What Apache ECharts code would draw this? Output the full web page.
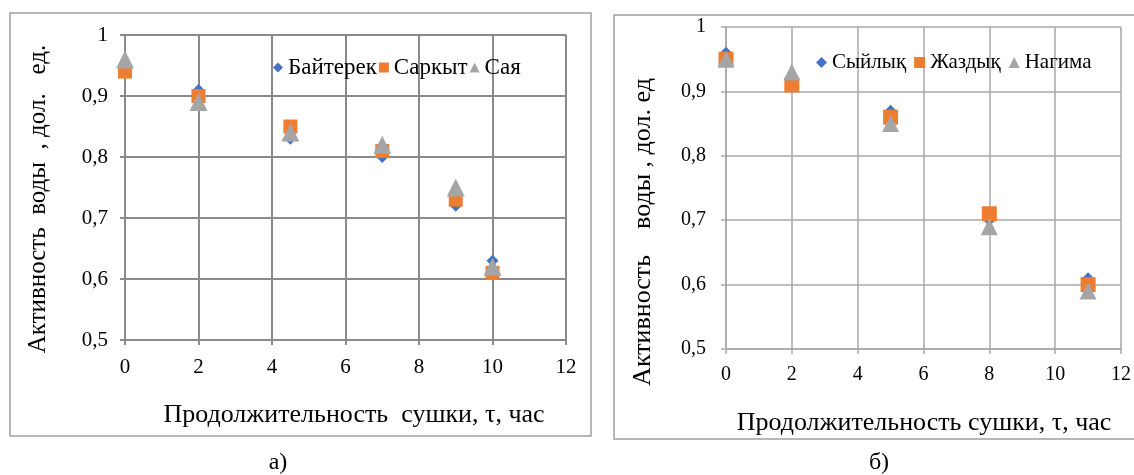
<!DOCTYPE html>
<html>
<head>
<meta charset="utf-8">
<script src="https://cdn.jsdelivr.net/npm/echarts@6/dist/echarts.min.js"></script>
<style>
html,body{margin:0;padding:0;background:#fff;}
#c{width:1134px;height:475px;}
</style>
</head>
<body>
<div id="c"></div>
<script>
// ---- data ----
var xA = [0, 2, 4.5, 7, 9, 10];
var baiterek = [0.95, 0.91, 0.83, 0.80, 0.72, 0.63];
var sarkyt   = [0.94, 0.90, 0.85, 0.81, 0.73, 0.61];
var saya     = [0.96, 0.89, 0.84, 0.82, 0.75, 0.62];

var xB = [0, 2, 5, 8, 11];
var syilyk  = [0.96, 0.91, 0.87, 0.70, 0.61];
var zhazdyk = [0.95, 0.91, 0.86, 0.71, 0.60];
var nagima  = [0.95, 0.93, 0.85, 0.69, 0.59];

var namesA = ['Байтерек', 'Саркыт', 'Сая'];
var namesB = ['Сыйлық', 'Жаздық', 'Нагима'];
var xTicks = ['0', '2', '4', '6', '8', '10', '12'];
var yTicks = ['0,5', '0,6', '0,7', '0,8', '0,9', '1'];
var xTitleA = 'Продолжительность  сушки, τ, час';
var xTitleB = 'Продолжительность сушки, τ, час';
var yTitleA = 'Активность  воды  , дол.   ед.';
var yTitleB = 'Активность    воды , дол. ед';
var capA = 'а)', capB = 'б)';

function pairs(xs, ys){ return xs.map(function(x,i){ return [x, ys[i]]; }); }

var FONT = 'Liberation Serif';
var chart = echarts.init(document.getElementById('c'));

function xAxis(gi, color, w, fs, margin){
  return {
    type:'value', gridIndex:gi, min:0, max:12, interval:2,
    axisLine:{show:true, lineStyle:{color:color, width:w}},
    axisTick:{show:true, length:5, lineStyle:{color:color, width:w}},
    splitLine:{show:true, lineStyle:{color:color, width:w}},
    axisLabel:{color:'#000', fontFamily:FONT, fontSize:fs, margin:margin,
      formatter:function(v,i){ return xTicks[i]; }}
  };
}
function yAxis(gi, color, w, fs, margin){
  return {
    type:'value', gridIndex:gi, min:0.5, max:1, interval:0.1,
    axisLine:{show:true, lineStyle:{color:color, width:w}},
    axisTick:{show:true, length:5, lineStyle:{color:color, width:w}},
    splitLine:{show:true, lineStyle:{color:color, width:w}},
    axisLabel:{color:'#000', fontFamily:FONT, fontSize:fs, margin:margin,
      formatter:function(v,i){ return yTicks[i]; }}
  };
}
function ser(name, data, gi, sym, size, color, z){
  return {type:'scatter', name:name, xAxisIndex:gi, yAxisIndex:gi, data:data,
    symbol:sym, symbolSize:size, itemStyle:{color:color, opacity:1}, z:z, silent:true};
}

var option = {
  animation:false,
  backgroundColor:'#fff',
  grid:[
    {left:125, top:35, width:441, height:305},
    {left:726, top:27, width:395.5, height:322}
  ],
  xAxis:[ xAxis(0,'#8a8a8a',2,21,17), xAxis(1,'#a9a9a9',1.5,20,16) ],
  yAxis:[ yAxis(0,'#8a8a8a',2,21,17), yAxis(1,'#a9a9a9',1.5,20,20) ],
  legend:[
    {data:namesA, left:268, top:51, itemWidth:10, itemHeight:10, itemGap:2,
     textStyle:{fontFamily:FONT, fontSize:23, color:'#000'}, selectedMode:false},
    {data:namesB, left:811, top:47, itemWidth:11, itemHeight:11, itemGap:8,
     textStyle:{fontFamily:FONT, fontSize:21, color:'#000'}, selectedMode:false}
  ],
  series:[
    ser(namesA[0], pairs(xA, baiterek), 0, 'diamond', 12, '#4472C4', 3),
    ser(namesA[1], pairs(xA, sarkyt),   0, 'rect',    14, '#ED7D31', 4),
    ser(namesA[2], pairs(xA, saya),     0, 'triangle',18, '#A5A5A5', 5),
    ser(namesB[0], pairs(xB, syilyk),  1, 'diamond', 12, '#4472C4', 3),
    ser(namesB[1], pairs(xB, zhazdyk), 1, 'rect',    15, '#ED7D31', 4),
    ser(namesB[2], pairs(xB, nagima),  1, 'triangle',17, '#A5A5A5', 5)
  ],
  graphic:[
    {type:'rect', shape:{x:10, y:13, width:581, height:423}, style:{fill:'none', stroke:'#a0a0a0', lineWidth:1.5}, z:-1},
    {type:'rect', shape:{x:614, y:15, width:540, height:424}, style:{fill:'none', stroke:'#a0a0a0', lineWidth:1.5}, z:-1},
    {type:'text', x:354, y:415, style:{text:xTitleA, font:'26px "Liberation Serif"', fill:'#000', align:'center', verticalAlign:'middle'}},
    {type:'text', x:924, y:423, style:{text:xTitleB, font:'26px "Liberation Serif"', fill:'#000', align:'center', verticalAlign:'middle'}},
    {type:'text', x:38, y:199, rotation:Math.PI/2, style:{text:yTitleA, font:'25px "Liberation Serif"', fill:'#000', align:'center', verticalAlign:'middle'}},
    {type:'text', x:643, y:232, rotation:Math.PI/2, style:{text:yTitleB, font:'26px "Liberation Serif"', fill:'#000', align:'center', verticalAlign:'middle'}},
    {type:'text', x:278, y:463, style:{text:capA, font:'24px "Liberation Serif"', fill:'#000', align:'center', verticalAlign:'middle'}},
    {type:'text', x:879, y:463, style:{text:capB, font:'24px "Liberation Serif"', fill:'#000', align:'center', verticalAlign:'middle'}}
  ]
};
chart.setOption(option);
</script>
</body>
</html>
